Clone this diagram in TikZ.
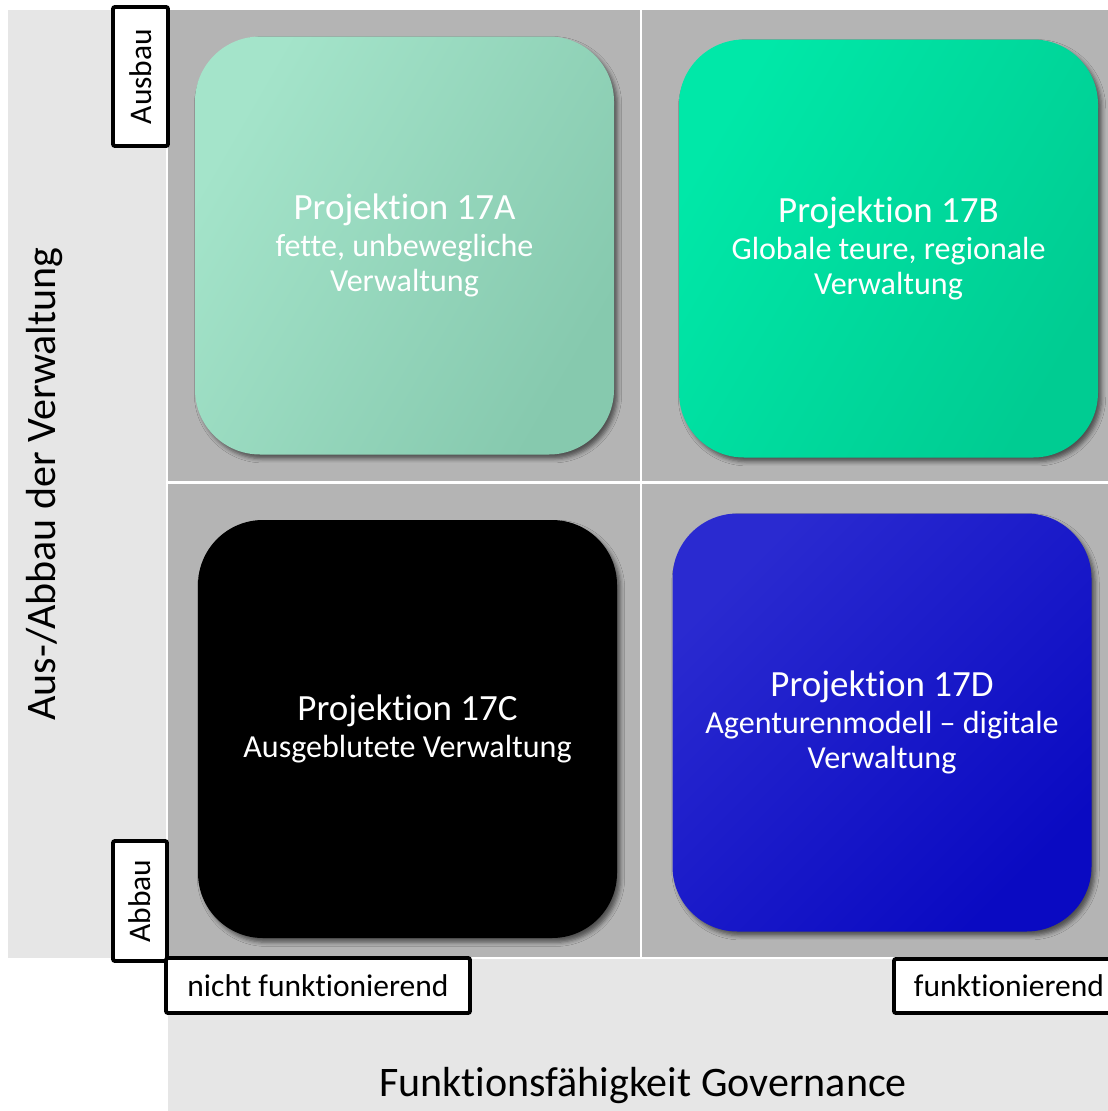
\documentclass[tikz,border=0pt]{standalone}
\usepackage{fontspec}
\setmainfont{Carlito}[Ligatures={NoCommon,NoContextual}]
\usetikzlibrary{positioning,shadows.blur}

\definecolor{bandgray}{HTML}{E6E6E6}
\definecolor{fieldgray}{HTML}{B4B4B4}
\definecolor{mintlight}{HTML}{A4E4CA}
\definecolor{mintdark}{HTML}{86C9AE}
\definecolor{greenlight}{HTML}{00E8A8}
\definecolor{greendark}{HTML}{00CC92}
\definecolor{bluelight}{HTML}{2A2AD0}
\definecolor{bluemid}{HTML}{1212DC}
\definecolor{bluedark}{HTML}{0A0AC2}
\newcommand\pxu{0.025cm}

\begin{document}
\begin{tikzpicture}[x=0.025cm, y=-0.025cm,
    quad/.style={rounded corners=65*\pxu, minimum width=419*\pxu, minimum height=418*\pxu,
      align=center, text=white, font=\fontsize{22.8}{24.9}\selectfont,
      blur shadow={shadow xshift=2.5pt, shadow yshift=-3pt, shadow blur radius=3pt, shadow opacity=55}},
    tag/.style={draw, line width=2.8pt, rounded corners=1.5pt, fill=white, inner sep=0pt,
      font=\fontsize{22.4}{24}\selectfont},
    axis/.style={font=\fontsize{29.9}{32}\selectfont}]
    \useasboundingbox (0,0) rectangle (1108,1111);
    \clip (0,0) rectangle (1108,1111);

    \fill[bandgray] (8,10) rectangle (168,958);
    \fill[bandgray] (168,958) rectangle (1108,1111);
    \fill[fieldgray] (168,10) rectangle (1108,958);
    \draw[white, line width=1.5pt] (167,10) -- (167,958) -- (1108,958);
    \draw[white, line width=2pt] (641,10) -- (641,958) (168,482.5) -- (1108,482.5);

    \node[quad, top color=mintlight, bottom color=mintdark, shading angle=60] (p17a) at (404.5,245.5)
      {{\fontsize{26.3}{30}\selectfont Projektion 17A}\\[1.4pt] fette, unbewegliche\\ Verwaltung};
    \node[quad, top color=greenlight, bottom color=greendark, shading angle=60] (p17b) at (888.5,248.5)
      {{\fontsize{26.3}{30}\selectfont Projektion 17B}\\[1.4pt] Globale teure, regionale\\ Verwaltung};
    \node[quad, fill=black] (p17c) at (407.5,729)
      {{\fontsize{26.3}{30}\selectfont Projektion 17C}\\[1.4pt] Ausgeblutete Verwaltung};
    \node[quad, top color=bluelight, middle color=bluemid, bottom color=bluedark, shading angle=45] (p17d) at (882,722.5)
      {{\fontsize{26.3}{30}\selectfont Projektion 17D}\\[1.4pt] Agenturenmodell – digitale\\ Verwaltung};

    \node[tag, rotate=90, minimum width=139*\pxu, minimum height=55*\pxu] (ausbau) at (140.5,76.5) {Ausbau};
    \node[tag, rotate=90, minimum width=120*\pxu, minimum height=54*\pxu] (abbau) at (140,901) {Abbau};
    \node[tag, minimum width=304*\pxu, minimum height=55*\pxu] (nichtfunk) at (318,985.5) {nicht funktionierend};
    \node[tag, minimum width=230*\pxu, minimum height=54*\pxu, anchor=west] (funk) at (892,986) {funktionierend};

    \node[axis, rotate=90] (yaxis) at (45,484) {Aus-/Abbau der Verwaltung};
    \node[axis] (xaxis) at (643,1086) {Funktionsfähigkeit Governance};
\end{tikzpicture}
\end{document}
